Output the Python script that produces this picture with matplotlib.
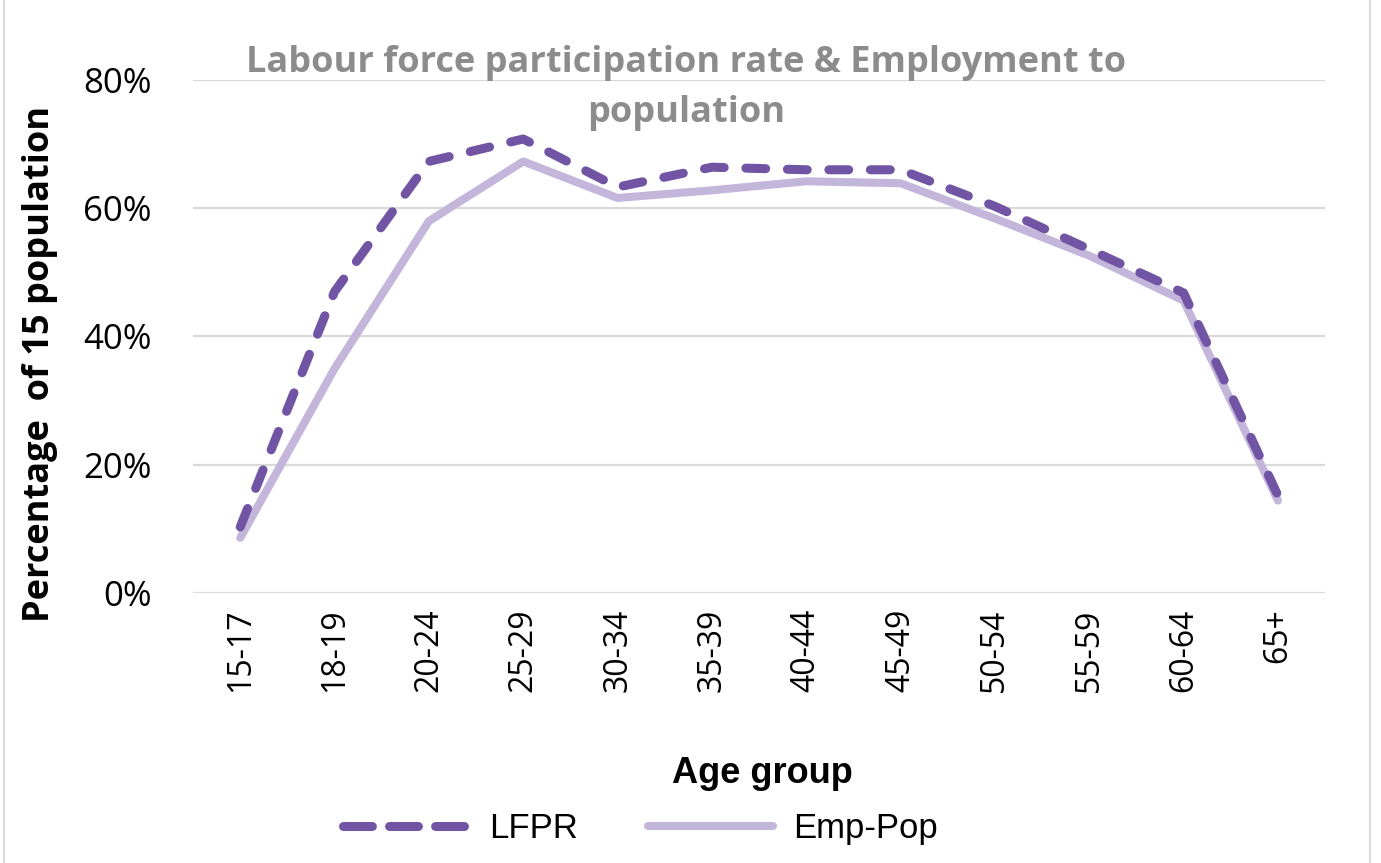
import matplotlib
matplotlib.use("Agg")
import matplotlib.pyplot as plt
from matplotlib.lines import Line2D

ages = ["15-17", "18-19", "20-24", "25-29", "30-34", "35-39",
        "40-44", "45-49", "50-54", "55-59", "60-64", "65+"]
lfpr = [10.3, 47.0, 67.3, 70.8, 63.3, 66.4, 66.0, 66.0, 60.3, 53.6, 46.8, 15.2]
emp_pop = [8.6, 35.0, 58.0, 67.3, 61.6, 62.8, 64.2, 63.9, 58.4, 52.6, 45.6, 14.4]
yticks = [0, 20, 40, 60, 80]

dark = "#7155a4"
light = "#c4b5db"
grid = "#d9d9d9"
sans = ["Open Sans", "DejaVu Sans"]
narrow = ["Liberation Sans Narrow", "Liberation Sans", "DejaVu Sans"]

fig = plt.figure(figsize=(13.81, 8.63), dpi=100)
ax = fig.add_axes([0.1398, 0.3129, 0.8197, 0.5944])

x = list(range(len(ages)))
ax.plot(x, emp_pop, color=light, lw=5.8, solid_capstyle="round",
        solid_joinstyle="round", label="Emp-Pop", zorder=3)
ax.plot(x, lfpr, color=dark, lw=6.5, dashes=(2.2, 2.4),
        dash_capstyle="round", dash_joinstyle="round", label="LFPR", zorder=4)

ax.set_xlim(-0.5, len(ages) - 0.5)
ax.set_ylim(0, 80)
ax.set_yticks(yticks)
ax.set_yticklabels([f"{v}%" for v in yticks], fontsize=25, family=sans)
ax.set_xticks(x)
ax.set_xticklabels(ages, rotation=90, fontsize=23, family=sans)
ax.tick_params(axis="both", length=0)
ax.tick_params(axis="y", pad=30)
ax.tick_params(axis="x", pad=11)
ax.yaxis.grid(True, color=grid, lw=1.6)
ax.set_axisbelow(True)
for s in ax.spines.values():
    s.set_visible(False)

fig.text(0.497, 0.898, "Labour force participation rate & Employment to\npopulation",
         ha="center", va="center", fontsize=26, fontweight="bold",
         color="#8c8c8c", family=sans, linespacing=1.55)

fig.text(0.029, 0.578, "Percentage  of 15 population", rotation=90,
         ha="center", va="center", fontsize=26, fontweight="bold",
         family=sans)

fig.text(0.552, 0.104, "Age group", ha="center", va="center",
         fontsize=26, fontweight="bold", family=narrow)

handles = [Line2D([], [], color=dark, lw=6.5, dashes=(3.2, 1.9),
                  dash_capstyle="round"),
           Line2D([], [], color=light, lw=5.8, solid_capstyle="round")]
fig.legend(handles, ["LFPR", "Emp-Pop"], loc="center",
           bbox_to_anchor=(0.464, 0.040), ncol=2, frameon=False,
           prop={"family": narrow, "size": 25}, handlelength=3.6,
           handletextpad=0.6, columnspacing=2.0)

# light frame around the chart
for xb in (0.003, 0.992):
    fig.add_artist(Line2D([xb, xb], [0, 1], color=grid, lw=1.5,
                          transform=fig.transFigure))

fig.savefig("out.png", dpi=100, facecolor="white")
